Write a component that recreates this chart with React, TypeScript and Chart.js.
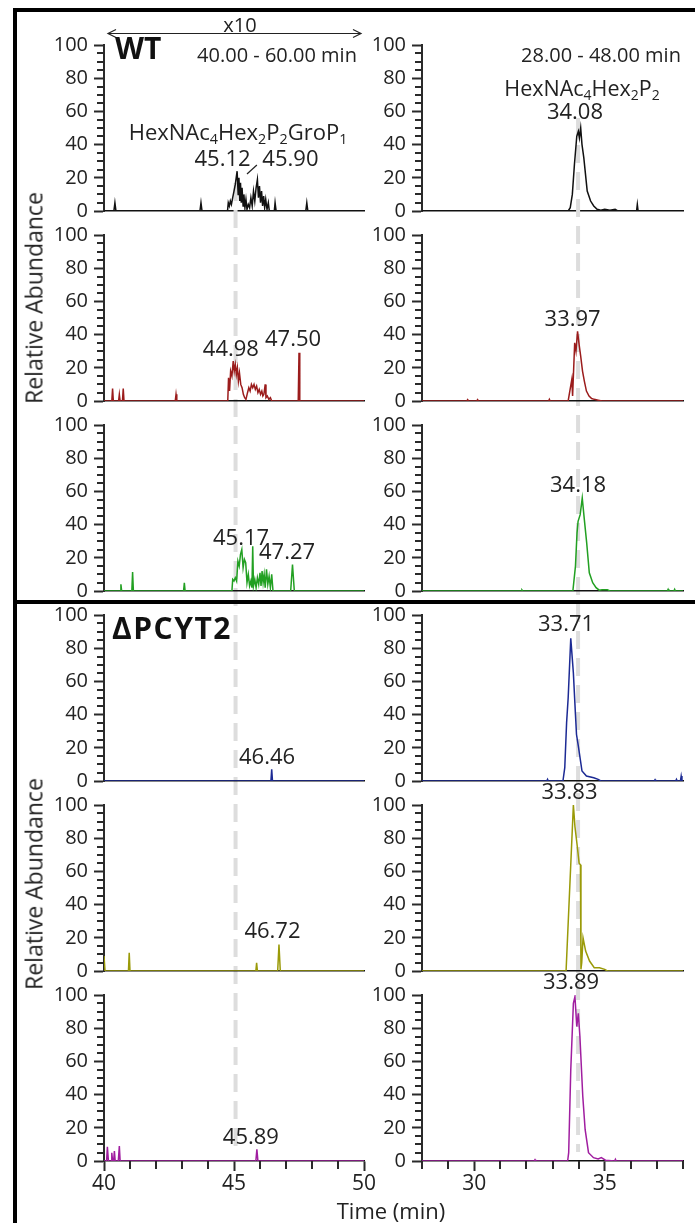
import React, { useEffect, useRef } from 'react';
import { Chart, registerables } from 'chart.js';

Chart.register(...registerables);

type Pt = [number, number];
type PeakLabel = { text: string; x: number; y: number };

const W = 695;
const H = 1223;
const FONT = "'Open Sans', 'DejaVu Sans', sans-serif";

// ---------- axis ranges / ticks ----------
const leftRange = [40, 50];
const rightRange = [28, 38];
const leftXMajor = [40, 45, 50];
const rightXMajor = [30, 35];
const leftXMinor = [41, 42, 43, 44, 46, 47, 48, 49];
const rightXMinor = [28, 29, 31, 32, 33, 34, 36, 37, 38];
const yMajor = [0, 20, 40, 60, 80, 100];
const yMinor = [5, 10, 15, 25, 30, 35, 45, 50, 55, 65, 70, 75, 85, 90, 95];

// ---------- row colours (WT x3, ΔPCYT2 x3) ----------
const rowColors = ['#111111', '#9b1c1c', '#22a022', '#1c2a94', '#9a9a08', '#a01ea0'];

// ---------- left column: HexNAc4Hex2P2GroP1 (40-50 min) ----------
const wtGroP_1: Pt[] = [
  [40, 0], [40.38, 0], [40.42, 5], [40.46, 0],
  [43.69, 0], [43.73, 5], [43.77, 0],
  [44.75, 0], [44.78, 5], [44.82, 3], [44.86, 6], [44.9, 4], [44.95, 8], [45.0, 12], [45.05, 16], [45.12, 24],
  [45.16, 10], [45.19, 20], [45.22, 6], [45.25, 17], [45.28, 5], [45.31, 14], [45.35, 3], [45.38, 10], [45.42, 2],
  [45.46, 7], [45.5, 1], [45.55, 4], [45.6, 2], [45.65, 8], [45.7, 3], [45.75, 12], [45.8, 6], [45.85, 14],
  [45.9, 19], [45.94, 8], [45.98, 15], [46.02, 5], [46.06, 12], [46.1, 3], [46.14, 9], [46.18, 2], [46.22, 7],
  [46.27, 1], [46.32, 5], [46.36, 0],
  [46.55, 0], [46.58, 5], [46.62, 0],
  [47.76, 0], [47.8, 5], [47.84, 0],
  [50, 0],
];
const wtGroP_2: Pt[] = [
  [40, 0], [40.3, 0], [40.33, 7.5], [40.36, 0], [40.56, 0], [40.59, 4], [40.62, 0], [40.71, 0], [40.74, 7.5], [40.77, 0],
  [42.74, 0], [42.77, 4], [42.8, 0],
  [44.76, 0], [44.79, 14], [44.83, 6], [44.87, 18], [44.92, 15], [44.97, 24], [45.01, 18], [45.05, 22], [45.09, 16],
  [45.13, 20], [45.17, 12], [45.21, 17], [45.26, 10], [45.31, 8], [45.36, 4], [45.41, 2], [45.46, 1], [45.52, 5],
  [45.57, 8], [45.62, 6], [45.67, 10], [45.72, 8], [45.77, 10], [45.82, 7], [45.87, 9], [45.92, 5], [45.97, 7],
  [46.02, 4], [46.07, 6], [46.11, 3], [46.15, 4], [46.2, 10], [46.23, 2], [46.28, 3], [46.34, 1], [46.4, 2], [46.45, 0],
  [47.47, 0], [47.5, 29], [47.53, 0],
  [50, 0],
];
const wtGroP_3: Pt[] = [
  [40, 0], [40.62, 0], [40.65, 4], [40.68, 0], [41.07, 0], [41.1, 11.5], [41.13, 0], [43.06, 0], [43.09, 5], [43.12, 0],
  [44.92, 0], [44.95, 7], [45.0, 6], [45.05, 8], [45.1, 6], [45.15, 18], [45.2, 15], [45.25, 22], [45.3, 25],
  [45.35, 14], [45.4, 19], [45.45, 17], [45.5, 5], [45.55, 10], [45.6, 3], [45.65, 6], [45.69, 2], [45.72, 27],
  [45.75, 3], [45.8, 7], [45.85, 2], [45.9, 8], [45.95, 4], [46.0, 11], [46.04, 3], [46.08, 12], [46.12, 5],
  [46.16, 10], [46.2, 2], [46.25, 13], [46.3, 4], [46.35, 9], [46.4, 2], [46.45, 10], [46.5, 0],
  [47.18, 0], [47.25, 16], [47.32, 0],
  [50, 0],
];
const koGroP_1: Pt[] = [
  [40, 0], [46.42, 0], [46.45, 7], [46.48, 0], [50, 0],
];
const koGroP_2: Pt[] = [
  [40, 9], [40.04, 0], [40.94, 0], [40.97, 11], [41.0, 0], [45.84, 0], [45.87, 5], [45.9, 0],
  [46.68, 0], [46.73, 16], [46.78, 0], [50, 0],
];
const koGroP_3: Pt[] = [
  [40, 0], [40.1, 0], [40.13, 8.5], [40.17, 0], [40.27, 0], [40.3, 5], [40.33, 0], [40.37, 0], [40.4, 6], [40.43, 0],
  [40.55, 0], [40.59, 9], [40.62, 0], [45.84, 0], [45.88, 7], [45.92, 0], [50, 0],
];

// ---------- right column: HexNAc4Hex2P2 (28-38 min) ----------
const wtP2_1: Pt[] = [
  [28, 0], [33.6, 0], [33.68, 2], [33.76, 10], [33.84, 28], [33.93, 45], [33.99, 48], [34.03, 44], [34.08, 50],
  [34.13, 40], [34.2, 32], [34.33, 12], [34.46, 6], [34.58, 3], [34.71, 1], [34.85, 0.5], [35.0, 1], [35.2, 0.5],
  [35.4, 1], [35.5, 0], [36.22, 0], [36.25, 4], [36.28, 0], [38, 0],
];
const wtP2_2: Pt[] = [
  [28, 0], [29.72, 0], [29.75, 0.8], [29.78, 0], [30.1, 0], [30.13, 0.8], [30.16, 0], [32.85, 0], [32.88, 1], [32.91, 0],
  [33.6, 0], [33.74, 13], [33.77, 3], [33.85, 35], [33.9, 30], [33.96, 42], [34.02, 34], [34.08, 27], [34.15, 18],
  [34.22, 12], [34.3, 6], [34.4, 3], [34.5, 1.5], [34.6, 1], [34.75, 0.5], [34.9, 0], [38, 0],
];
const wtP2_3: Pt[] = [
  [28, 0], [31.8, 0], [31.83, 0.6], [31.86, 0], [33.78, 0], [33.88, 15], [33.94, 35], [33.98, 42], [34.06, 46],
  [34.14, 56], [34.22, 43], [34.31, 29], [34.41, 11], [34.54, 5], [34.67, 2], [34.79, 0.5], [34.9, 0.8], [35.1, 0.8],
  [35.2, 0], [37.4, 0], [37.43, 1], [37.46, 0], [37.65, 0], [37.68, 1], [37.71, 0], [38, 0],
];
const koP2_1: Pt[] = [
  [28, 0], [32.78, 0], [32.81, 1], [32.84, 0], [33.4, 0], [33.47, 8], [33.54, 35], [33.6, 50], [33.7, 86],
  [33.8, 65], [33.88, 40], [33.92, 28], [33.99, 21], [34.13, 6], [34.3, 3], [34.58, 2], [34.75, 1], [34.85, 0],
  [36.9, 0], [36.93, 0.8], [36.96, 0], [37.72, 0], [37.75, 1], [37.78, 0], [37.9, 0], [37.93, 3], [37.96, 0], [38, 0],
];
const koP2_2: Pt[] = [
  [28, 0], [33.52, 0], [33.8, 100], [33.86, 87], [33.95, 75], [34.02, 65], [34.07, 64], [34.09, 1], [34.12, 5],
  [34.17, 20], [34.27, 12], [34.42, 6], [34.6, 2], [34.8, 2], [35.0, 1], [35.1, 0], [38, 0],
];
const koP2_3: Pt[] = [
  [28, 0], [32.3, 0], [32.33, 0.8], [32.36, 0], [33.58, 0], [33.62, 5], [33.7, 55], [33.8, 95], [33.86, 99],
  [33.93, 81], [33.99, 89], [34.05, 75], [34.16, 39], [34.25, 19], [34.38, 5], [34.57, 2], [34.75, 1.2], [34.87, 2],
  [35.03, 0.5], [35.38, 0], [35.41, 1], [35.44, 0], [38, 0],
];

const leftSeries = [wtGroP_1, wtGroP_2, wtGroP_3, koGroP_1, koGroP_2, koGroP_3];
const rightSeries = [wtP2_1, wtP2_2, wtP2_3, koP2_1, koP2_2, koP2_3];

// ---------- peak labels (retention times) ----------
const leftPeakLabels: PeakLabel[][] = [
  [{ text: '45.12', x: 44.56, y: 30.7 }, { text: '45.90', x: 47.17, y: 30.7 }],
  [{ text: '44.98', x: 44.88, y: 30.7 }, { text: '47.50', x: 47.27, y: 36.7 }],
  [{ text: '45.17', x: 45.27, y: 31.3 }, { text: '47.27', x: 47.04, y: 22.9 }],
  [{ text: '46.46', x: 46.27, y: 13.9 }],
  [{ text: '46.72', x: 46.48, y: 23.5 }],
  [{ text: '45.89', x: 45.65, y: 13.9 }],
];
const rightPeakLabels: PeakLabel[][] = [
  [{ text: '34.08', x: 33.86, y: 59 }],
  [{ text: '33.97', x: 33.77, y: 48.8 }],
  [{ text: '34.18', x: 33.98, y: 63.3 }],
  [{ text: '33.71', x: 33.52, y: 94 }],
  [{ text: '33.83', x: 33.65, y: 107.2 }],
  [{ text: '33.89', x: 33.71, y: 107.2 }],
];
// leader line from "45.90" to its peak (row 1, left)
const leaderLine = { x1: 45.5, y1: 22.3, x2: 45.88, y2: 27.7 };

// reference retention times marked with dashed lines
const leftRefTime = 45.06;
const rightRefTime = 33.98;

// ---------- layout ----------
const COLS = [
  { left: 104, right: 364 },
  { left: 422, right: 683 },
];
const ROW_TOP0 = 45;
const ROW_PITCH = 190;
const ROW_H = 166;
const YW = 60;
const XH_BOTTOM = 40;
const AXIS_COLOR = '#2a2a2a';

type PanelExtras = {
  labels: PeakLabel[];
  xMinor: number[];
  leader?: { x1: number; y1: number; x2: number; y2: number };
  ref?: { time: number; from: number; to: number };
};

function makePanelPlugin(ex: PanelExtras) {
  return {
    id: 'panelExtras',
    beforeDatasetsDraw(chart: any) {
      if (!ex.ref) return;
      const ctx = chart.ctx;
      const x = chart.scales.x.getPixelForValue(ex.ref.time);
      ctx.save();
      ctx.strokeStyle = '#dddddd';
      ctx.lineWidth = 4;
      ctx.setLineDash([18, 9]);
      ctx.beginPath();
      ctx.moveTo(x, ex.ref.from);
      ctx.lineTo(x, ex.ref.to);
      ctx.stroke();
      ctx.restore();
    },
    afterDatasetsDraw(chart: any) {
      const ctx = chart.ctx;
      const xs = chart.scales.x;
      const ys = chart.scales.y;
      ctx.save();
      ctx.fillStyle = '#222';
      ctx.font = `22px ${FONT}`;
      ctx.textAlign = 'center';
      ctx.textBaseline = 'middle';
      ex.labels.forEach((l) => {
        ctx.fillText(l.text, xs.getPixelForValue(l.x), ys.getPixelForValue(l.y));
      });
      if (ex.leader) {
        ctx.strokeStyle = '#222';
        ctx.lineWidth = 1.2;
        ctx.beginPath();
        ctx.moveTo(xs.getPixelForValue(ex.leader.x1), ys.getPixelForValue(ex.leader.y1));
        ctx.lineTo(xs.getPixelForValue(ex.leader.x2), ys.getPixelForValue(ex.leader.y2));
        ctx.stroke();
      }
      ctx.restore();
    },
    afterDraw(chart: any) {
      // minor tick marks, placed by the chart's own scales
      const ctx = chart.ctx;
      const xs = chart.scales.x;
      const ys = chart.scales.y;
      const left = ys.right;
      const bottom = xs.top;
      ctx.save();
      ctx.strokeStyle = AXIS_COLOR;
      ctx.lineWidth = 2;
      ctx.lineCap = 'butt';
      ctx.beginPath();
      for (let i = 0; i < yMinor.length; i++) {
        const y = Math.round(ys.getPixelForValue(yMinor[i]));
        ctx.moveTo(left - 7, y);
        ctx.lineTo(left, y);
      }
      for (let i = 0; i < ex.xMinor.length; i++) {
        const x = Math.round(xs.getPixelForValue(ex.xMinor[i]));
        ctx.moveTo(x, bottom);
        ctx.lineTo(x, bottom + 8);
      }
      ctx.stroke();
      ctx.restore();
    },
  };
}

function makeConfig(row: number, col: number): any {
  const isBottom = row === 5;
  const area = {
    left: COLS[col].left,
    right: COLS[col].right,
    top: ROW_TOP0 + ROW_PITCH * row,
    bottom: ROW_TOP0 + ROW_PITCH * row + ROW_H,
  };
  const XH = isBottom ? XH_BOTTOM : 0;
  const range = col === 0 ? leftRange : rightRange;
  const xMajor = col === 0 ? leftXMajor : rightXMajor;
  const xMinor = col === 0 ? leftXMinor : rightXMinor;
  const series = col === 0 ? leftSeries[row] : rightSeries[row];
  const labels = col === 0 ? leftPeakLabels[row] : rightPeakLabels[row];
  const extras: PanelExtras = { labels, xMinor: isBottom ? xMinor : [] };
  if (row === 0 && col === 0) {
    extras.leader = leaderLine;
    extras.ref = { time: leftRefTime, from: 183, to: 1152 };
  }
  if (row === 0 && col === 1) {
    extras.ref = { time: rightRefTime, from: 118, to: 1152 };
  }
  return {
    type: 'line',
    data: {
      datasets: [
        {
          data: series.map(([x, y]) => ({ x, y })),
          borderColor: rowColors[row],
          borderWidth: 1.5,
          pointRadius: 0,
          tension: 0,
          fill: false,
        },
      ],
    },
    options: {
      responsive: false,
      animation: false,
      events: [],
      layout: {
        padding: {
          left: area.left - YW,
          right: W - area.right,
          top: area.top,
          bottom: H - area.bottom - XH,
        },
      },
      plugins: {
        legend: { display: false },
        tooltip: { enabled: false },
      },
      scales: {
        x: {
          type: 'linear',
          position: 'bottom',
          min: range[0],
          max: range[1],
          afterBuildTicks: (s: any) => {
            s.ticks = xMajor.map((value) => ({ value }));
          },
          afterFit: (s: any) => {
            s.height = XH;
          },
          ticks: {
            display: isBottom,
            autoSkip: false,
            maxRotation: 0,
            padding: 0,
            color: '#222',
            font: { family: FONT, size: 21 },
            callback: (v: number) => String(v),
          },
          grid: {
            display: true,
            drawOnChartArea: false,
            drawTicks: isBottom,
            tickLength: 10,
            tickColor: AXIS_COLOR,
            tickWidth: 2,
          },
          border: { display: true, color: '#111', width: 1.5 },
        },
        y: {
          type: 'linear',
          position: 'left',
          min: 0,
          max: 100,
          afterBuildTicks: (s: any) => {
            s.ticks = yMajor.map((value) => ({ value }));
          },
          afterFit: (s: any) => {
            s.width = YW;
          },
          ticks: {
            autoSkip: false,
            padding: 6,
            color: '#222',
            font: { family: FONT, size: 20 },
            callback: (v: number) => String(v),
          },
          grid: {
            drawOnChartArea: false,
            tickLength: 10,
            tickColor: AXIS_COLOR,
            tickWidth: 2,
          },
          border: { display: true, color: AXIS_COLOR, width: 2 },
        },
      },
    },
    plugins: [makePanelPlugin(extras)],
  };
}

const textBase: React.CSSProperties = {
  position: 'absolute',
  whiteSpace: 'nowrap',
  lineHeight: 1,
  color: '#222',
  fontFamily: FONT,
  transform: 'translate(-50%, -50%)',
};

const Sub = ({ children }: { children: React.ReactNode }) => (
  <span style={{ fontSize: '0.65em', position: 'relative', top: '0.3em' }}>{children}</span>
);

export default function App() {
  const canvasRefs = useRef<(HTMLCanvasElement | null)[]>([]);

  useEffect(() => {
    const charts: Chart[] = [];
    let k = 0;
    for (let row = 0; row < 6; row++) {
      for (let col = 0; col < 2; col++) {
        const cv = canvasRefs.current[k++];
        if (cv) charts.push(new Chart(cv, makeConfig(row, col)));
      }
    }
    return () => charts.forEach((c) => c.destroy());
  }, []);

  const canvases = [];
  for (let i = 0; i < 12; i++) {
    canvases.push(
      <canvas
        key={i}
        ref={(el) => {
          canvasRefs.current[i] = el;
        }}
        width={W}
        height={H}
        style={{ position: 'absolute', left: 0, top: 0, width: W, height: H }}
      />
    );
  }

  return (
    <div
      style={{
        position: 'absolute',
        left: 0,
        top: 0,
        width: W,
        height: H,
        background: '#fff',
        overflow: 'hidden',
        fontFamily: FONT,
      }}
    >
      {canvases}

      {/* frame lines */}
      <div style={{ position: 'absolute', left: 13, top: 8, width: W - 13, height: 4, background: '#000' }} />
      <div style={{ position: 'absolute', left: 13, top: 8, width: 4, height: H - 8, background: '#000' }} />
      <div style={{ position: 'absolute', left: 13, top: 600, width: W - 13, height: 4, background: '#000' }} />

      {/* x10 arrow */}
      <svg width={W} height={60} style={{ position: 'absolute', left: 0, top: 0 }}>
        <line x1={108} y1={33.5} x2={361} y2={33.5} stroke="#222" strokeWidth={1.2} />
        <polyline points="116,29.5 108,33.5 116,37.5" fill="none" stroke="#222" strokeWidth={1.2} />
        <polyline points="353,29.5 361,33.5 353,37.5" fill="none" stroke="#222" strokeWidth={1.2} />
      </svg>
      <div style={{ ...textBase, left: 240, top: 25, fontSize: 20 }}>x10</div>

      <div style={{ ...textBase, left: 115, top: 48, fontSize: 30, fontWeight: 700, transform: 'translate(0, -50%)', color: '#111' }}>
        WT
      </div>
      <div style={{ ...textBase, left: 277, top: 55, fontSize: 20 }}>40.00 - 60.00 min</div>
      <div style={{ ...textBase, left: 601, top: 55, fontSize: 20 }}>28.00 - 48.00 min</div>

      <div style={{ ...textBase, left: 238, top: 131, fontSize: 22 }}>
        HexNAc<Sub>4</Sub>Hex<Sub>2</Sub>P<Sub>2</Sub>GroP<Sub>1</Sub>
      </div>
      <div style={{ ...textBase, left: 582, top: 88, fontSize: 21.5 }}>
        HexNAc<Sub>4</Sub>Hex<Sub>2</Sub>P<Sub>2</Sub>
      </div>

      <div
        style={{
          ...textBase,
          left: 112,
          top: 628,
          fontSize: 30,
          fontWeight: 700,
          letterSpacing: 1.5,
          transform: 'translate(0, -50%)',
          color: '#111',
        }}
      >
        ΔPCYT2
      </div>

      <div style={{ ...textBase, left: 34, top: 298, fontSize: 23, transform: 'translate(-50%, -50%) rotate(-90deg)' }}>
        Relative Abundance
      </div>
      <div style={{ ...textBase, left: 34, top: 884, fontSize: 23, transform: 'translate(-50%, -50%) rotate(-90deg)' }}>
        Relative Abundance
      </div>

      <div style={{ ...textBase, left: 391, top: 1210, fontSize: 22 }}>Time (min)</div>
    </div>
  );
}
